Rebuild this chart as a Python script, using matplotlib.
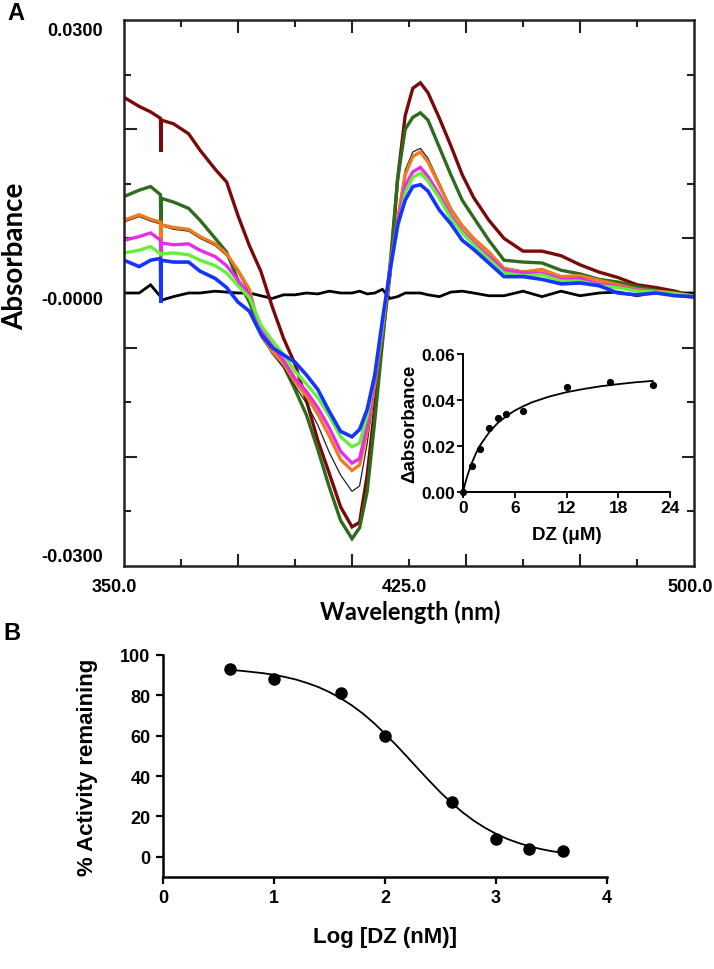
import matplotlib
matplotlib.use("Agg")
import matplotlib.pyplot as plt
from matplotlib.transforms import offset_copy, blended_transform_factory

# ---------------- Panel A data (difference spectra) ----------------
wavelength = [350, 354, 357, 359.6, 359.7, 359.8, 363, 367, 370, 374, 377, 380, 383,
              386, 389, 392, 395, 398, 401, 404, 407, 410, 412, 414, 416, 418, 420,
              422, 424, 426, 428, 430, 433, 436, 439, 442, 446, 450, 455, 460, 465,
              470, 475, 480, 485, 490, 495, 500]

spec_maroon = [0.0215, 0.0205, 0.0199, 0.0192, 0.0155, 0.0190, 0.0186, 0.0175, 0.0157, 0.0136,
               0.0122, 0.0085, 0.0052, 0.0024, -0.0015, -0.0050, -0.0078, -0.0118, -0.0162,
               -0.0198, -0.0235, -0.0257, -0.0252, -0.0200, -0.0125, -0.0050, 0.0020, 0.0125,
               0.0195, 0.0225, 0.0231, 0.0220, 0.0192, 0.0162, 0.0130, 0.0105, 0.0080, 0.0060,
               0.0046, 0.0046, 0.0041, 0.0031, 0.0023, 0.0017, 0.0009, 0.0006, 0.0002, -0.0004]

spec_darkgreen = [0.0106, 0.0113, 0.0117, 0.0108, 0.0044, 0.0104, 0.0100, 0.0093, 0.0080, 0.0060,
                  0.0045, 0.0014, -0.0010, -0.0042, -0.0065, -0.0080, -0.0106, -0.0134, -0.0172,
                  -0.0213, -0.0250, -0.0270, -0.0258, -0.0218, -0.0140, -0.0055, 0.0030, 0.0125,
                  0.0180, 0.0193, 0.0198, 0.0190, 0.0160, 0.0130, 0.0102, 0.0083, 0.0058, 0.0036,
                  0.0034, 0.0033, 0.0025, 0.0021, 0.0015, 0.0012, 0.0007, 0.0003, 0.0000, -0.0004]

spec_blackthin = [0.0078, 0.0084, 0.0079, 0.0076, 0.0076, 0.0074, 0.0070, 0.0068, 0.0060, 0.0052,
                  0.0041, 0.0023, 0.0000, -0.0048, -0.0066, -0.0082, -0.0102, -0.0121, -0.0145,
                  -0.0175, -0.0200, -0.0218, -0.0212, -0.0165, -0.0105, -0.0042, 0.0030, 0.0085,
                  0.0135, 0.0155, 0.0159, 0.0148, 0.0121, 0.0094, 0.0075, 0.0061, 0.0046, 0.0028,
                  0.0024, 0.0026, 0.0019, 0.0019, 0.0014, 0.0009, 0.0004, 0.0002, 0.0000, -0.0004]

spec_orange = [0.0080, 0.0086, 0.0081, 0.0078, 0.0040, 0.0075, 0.0072, 0.0070, 0.0062, 0.0054,
               0.0043, 0.0025, 0.0004, -0.0045, -0.0064, -0.0078, -0.0098, -0.0113, -0.0133,
               -0.0157, -0.0183, -0.0195, -0.0189, -0.0152, -0.0100, -0.0040, 0.0030, 0.0080,
               0.0130, 0.0150, 0.0155, 0.0144, 0.0118, 0.0092, 0.0074, 0.0060, 0.0045, 0.0027,
               0.0023, 0.0026, 0.0018, 0.0019, 0.0014, 0.0009, 0.0004, 0.0002, 0.0000, -0.0004]

spec_magenta = [0.0058, 0.0062, 0.0066, 0.0058, 0.0045, 0.0055, 0.0053, 0.0054, 0.0047, 0.0040,
                0.0030, 0.0014, -0.0002, -0.0040, -0.0058, -0.0074, -0.0094, -0.0108, -0.0126,
                -0.0148, -0.0174, -0.0187, -0.0182, -0.0145, -0.0095, -0.0038, 0.0025, 0.0075,
                0.0118, 0.0133, 0.0138, 0.0128, 0.0108, 0.0085, 0.0068, 0.0055, 0.0040, 0.0025,
                0.0022, 0.0022, 0.0015, 0.0016, 0.0010, 0.0007, 0.0003, 0.0001, -0.0002, -0.0005]

spec_lightgreen = [0.0044, 0.0047, 0.0051, 0.0043, 0.0043, 0.0043, 0.0044, 0.0042, 0.0036, 0.0030,
                   0.0022, 0.0008, -0.0005, -0.0035, -0.0052, -0.0068, -0.0086, -0.0100, -0.0115,
                   -0.0135, -0.0158, -0.0169, -0.0165, -0.0135, -0.0090, -0.0035, 0.0025, 0.0070,
                   0.0110, 0.0127, 0.0132, 0.0123, 0.0104, 0.0082, 0.0066, 0.0053, 0.0037, 0.0022,
                   0.0019, 0.0020, 0.0013, 0.0013, 0.0008, 0.0006, 0.0002, 0.0001, -0.0001, -0.0003]

spec_blue = [0.0036, 0.0029, 0.0036, 0.0038, -0.0011, 0.0036, 0.0034, 0.0034, 0.0024, 0.0016,
             0.0006, -0.0010, -0.0020, -0.0045, -0.0060, -0.0068, -0.0076, -0.0090, -0.0106,
             -0.0130, -0.0152, -0.0158, -0.0150, -0.0128, -0.0090, -0.0030, 0.0025, 0.0075,
             0.0102, 0.0117, 0.0119, 0.0112, 0.0091, 0.0076, 0.0058, 0.0048, 0.0033, 0.0018,
             0.0018, 0.0015, 0.0010, 0.0011, 0.0008, 0.0000, -0.0002, 0.0000, -0.0003, -0.0004]

spec_baseline = [0.0000, 0.0000, 0.0009, -0.0004, -0.0008, -0.0008, -0.0004, 0.0000, 0.0000, 0.0002,
                 0.0001, 0.0000, 0.0000, -0.0003, -0.0006, -0.0002, -0.0002, 0.0000, -0.0001,
                 0.0002, 0.0000, 0.0000, 0.0002, -0.0001, 0.0000, 0.0004, -0.0006, -0.0004,
                 0.0000, 0.0000, 0.0000, -0.0002, -0.0004, 0.0001, 0.0002, 0.0000, -0.0003, -0.0003,
                 0.0002, -0.0004, 0.0002, -0.0003, 0.0000, 0.0001, -0.0003, 0.0001, 0.0000, 0.0000]

# ---------------- Inset data (titration) ----------------
dz_uM = [0, 1, 2, 3, 4, 5, 7, 12, 17, 22]
delta_abs = [0.0, 0.0114, 0.0187, 0.0280, 0.0320, 0.0340, 0.0351, 0.0458, 0.0477, 0.0467]
fit_dz_uM = [0, 0.25, 0.5, 1, 1.5, 2, 3, 4, 5, 6, 7, 8, 10, 12, 14, 16, 18, 20, 22]
fit_delta_abs = [0.0, 0.0037, 0.0070, 0.0124, 0.0168, 0.0204, 0.0258, 0.0299, 0.0329, 0.0354,
                 0.0373, 0.0390, 0.0415, 0.0434, 0.0448, 0.0460, 0.0469, 0.0477, 0.0483]

# ---------------- Panel B data (inhibition) ----------------
log_dz = [0.6, 1.0, 1.6, 2.0, 2.6, 3.0, 3.3, 3.6]
activity = [93, 88, 81, 60, 27, 9, 4, 3]
fit_log_dz = [0.6, 0.7, 0.8, 0.9, 1.0, 1.1, 1.2, 1.3, 1.4, 1.5, 1.6, 1.7, 1.8, 1.9, 2.0,
              2.1, 2.2, 2.3, 2.4, 2.5, 2.6, 2.7, 2.8, 2.9, 3.0, 3.1, 3.2, 3.3, 3.4, 3.5, 3.6]
fit_activity = [92.6, 92.2, 91.6, 91.0, 90.2, 89.1, 87.8, 86.1, 84.1, 81.6, 78.6, 75.1, 71.0,
                66.3, 61.0, 55.4, 49.5, 43.5, 37.6, 31.9, 26.7, 22.0, 17.9, 14.4, 11.4, 8.9,
                6.9, 5.2, 3.9, 2.8, 2.0]

W, H = 714, 970
fig = plt.figure(figsize=(W / 100, H / 100), dpi=100)

def fx(px):
    return px / W

def fy(py):
    return 1 - py / H

# ---------------- Panel A ----------------
axA = fig.add_axes([fx(124), fy(567), fx(694) - fx(124), fy(21) - fy(567)])
axA.set_xlim(350, 500)
axA.set_ylim(-0.03, 0.03)

series = [
    (spec_baseline, "black", 2.0),
    (spec_maroon, "#7a0a0a", 2.4),
    (spec_darkgreen, "#2e6b1c", 2.4),
    (spec_blackthin, "#222222", 0.9),
    (spec_orange, "#f07a20", 2.4),
    (spec_magenta, "#e52ee5", 2.4),
    (spec_lightgreen, "#66ee3a", 2.4),
    (spec_blue, "#1434ff", 2.6),
]
for vals, col, lw in series:
    axA.plot(wavelength, vals, color=col, lw=lw, solid_joinstyle="miter")

for s in axA.spines.values():
    s.set_linewidth(1.8)
    s.set_color("#222222")

axA.set_xticks([380, 410, 440, 470])
axA.set_xticks([365, 395, 425, 455, 485], minor=True)
axA.set_yticks([-0.018, -0.006, 0.006, 0.018])
axA.set_yticks([-0.024, -0.012, 0.012, 0.024], minor=True)
axA.tick_params(which="both", direction="in", top=True, right=True,
                labelbottom=False, labelleft=False, color="#222222", width=1.5)
axA.tick_params(which="major", length=9)
axA.tick_params(which="minor", length=5)

ytr = blended_transform_factory(axA.transAxes, axA.transData)
y_label_vals = [0.03, 0.0, -0.03]
y_label_txt = ["0.0300", "-0.0000", "-0.0300"]
y_label_dy = [-11, -7, 9]
for v, t, dy in zip(y_label_vals, y_label_txt, y_label_dy):
    axA.text(0, v, t, transform=offset_copy(ytr, fig=fig, x=-21, y=dy, units="dots"),
             ha="right", va="center", fontsize=13, fontweight="bold",
             family="Liberation Sans", clip_on=False)

xtr = blended_transform_factory(axA.transData, axA.transAxes)
x_label_vals = [350, 425, 500]
x_label_txt = ["350.0", "425.0", "500.0"]
x_label_dx = [-10, -5, -4]
for v, t, dx in zip(x_label_vals, x_label_txt, x_label_dx):
    axA.text(v, 0, t, transform=offset_copy(xtr, fig=fig, x=dx, y=-20, units="dots"),
             ha="center", va="center", fontsize=13, fontweight="bold",
             family="Liberation Sans", clip_on=False)

fig.text(fx(15), fy(256), "Absorbance", rotation=90, ha="center", va="center",
         fontsize=20, fontweight="bold", family="Lato")
fig.text(fx(410), fy(612), "Wavelength (nm)", ha="center", va="center",
         fontsize=17, fontweight="bold", family="Lato")
fig.text(fx(16), fy(14), "A", ha="center", va="center", fontsize=17,
         fontweight="bold", family="Liberation Sans")

# ---------------- Inset ----------------
axI = fig.add_axes([fx(463), fy(493), fx(670) - fx(463), fy(355) - fy(493)])
axI.plot(fit_dz_uM, fit_delta_abs, color="black", lw=1.3)
axI.plot(dz_uM, delta_abs, "o", color="black", ms=4.2, clip_on=False)
axI.set_xlim(0, 24)
axI.set_ylim(0, 0.06)
axI.set_xticks([0, 6, 12, 18, 24])
axI.set_yticks([0.0, 0.02, 0.04, 0.06])
axI.set_yticklabels(["0.00", "0.02", "0.04", "0.06"])
axI.patch.set_alpha(0)
for k in ["top", "right"]:
    axI.spines[k].set_visible(False)
for k in ["left", "bottom"]:
    axI.spines[k].set_linewidth(1.4)
axI.tick_params(direction="out", length=4, width=1.3, pad=1.5)
for lab in axI.get_xticklabels() + axI.get_yticklabels():
    lab.set_fontsize(12.5)
    lab.set_fontweight("bold")
    lab.set_family("Liberation Sans")
axI.set_xlabel("DZ (\u03bcM)", fontsize=13.5, fontweight="bold", family="Liberation Sans",
               labelpad=8)
axI.set_ylabel("\u0394absorbance", fontsize=13.5, fontweight="bold", family="Liberation Sans",
               labelpad=2)

# ---------------- Panel B ----------------
axB = fig.add_axes([fx(163), fy(878), fx(607) - fx(163), fy(656) - fy(878)])
axB.plot(fit_log_dz, fit_activity, color="black", lw=1.3)
axB.plot(log_dz, activity, "o", color="black", ms=8)
axB.set_xlim(0, 4)
axB.set_ylim(-10, 100)
axB.set_xticks([0, 1, 2, 3, 4])
axB.set_yticks([0, 20, 40, 60, 80, 100])
for k in ["top", "right"]:
    axB.spines[k].set_visible(False)
for k in ["left", "bottom"]:
    axB.spines[k].set_linewidth(1.8)
axB.tick_params(direction="out", length=5, width=1.6, pad=4)
for lab in axB.get_xticklabels() + axB.get_yticklabels():
    lab.set_fontsize(13)
    lab.set_fontweight("bold")
    lab.set_family("Liberation Sans")
axB.set_xlabel("Log [DZ (nM)]", fontsize=16, fontweight="bold", family="Liberation Sans",
               labelpad=14)
axB.set_ylabel("% Activity remaining", fontsize=16, fontweight="bold",
               family="Liberation Sans", labelpad=16)
fig.text(fx(12), fy(634), "B", ha="center", va="center", fontsize=17,
         fontweight="bold", family="Liberation Sans")

fig.savefig("out.png", dpi=100)
